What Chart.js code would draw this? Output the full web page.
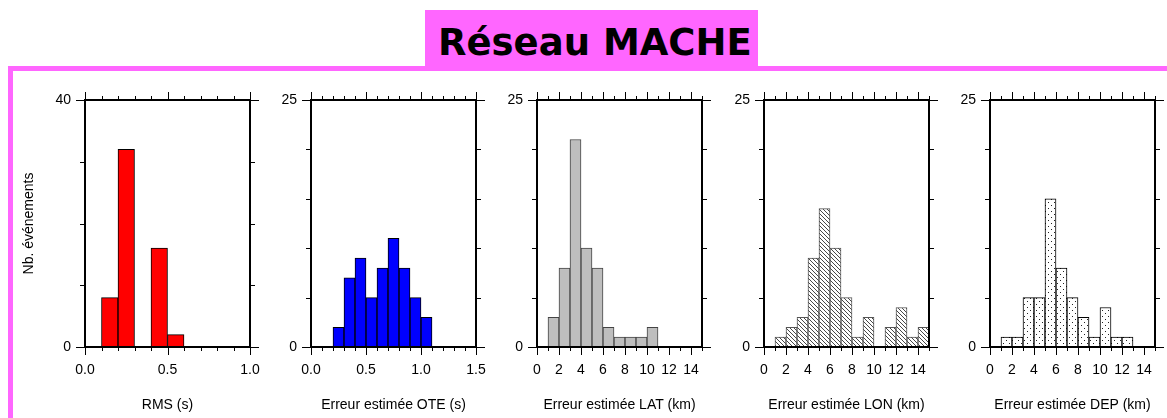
<!DOCTYPE html>
<html lang="fr">

<head>
    <meta charset="UTF-8">
    <title>Réseau MACHE</title>
    <script src="https://cdn.jsdelivr.net/npm/chart.js"></script>
    <style>
        body {
            margin: 0;
            width: 1167px;
            height: 418px;
            overflow: hidden;
            position: relative;
            background: #fff;
        }

        .bandeau {
            position: absolute;
            left: 8px;
            top: 66px;
            width: 1159px;
            height: 5px;
            background: #ff66ff;
        }

        .bord {
            position: absolute;
            left: 8px;
            top: 66px;
            width: 5px;
            height: 352px;
            background: #ff66ff;
        }

        .titre {
            position: absolute;
            left: 425px;
            top: 10px;
            width: 333px;
            height: 61px;
            background: #ff66ff;
        }

        .titre span {
            position: absolute;
            left: 13px;
            top: 11px;
            font: bold 37px "DejaVu Sans", sans-serif;
            color: #000;
            white-space: nowrap;
        }

        canvas {
            position: absolute;
            top: 90px;
        }
    </style>
</head>

<body>

    <div class="bandeau"></div>
    <div class="bord"></div>
    <div class="titre"><span>Réseau MACHE</span></div>

    <canvas id="histoRMS" style="left: 0px"></canvas>
    <canvas id="histoOTE" style="left: 251px"></canvas>
    <canvas id="histoLAT" style="left: 477px"></canvas>
    <canvas id="histoLON" style="left: 704px"></canvas>
    <canvas id="histoDEP" style="left: 930px"></canvas>

</body>

</html>

<script>

    // nombre d'événements par classe (la classe i va de i*pas à (i+1)*pas)
    const rmsComptes = [0, 8, 32, 0, 16, 2, 0, 0, 0, 0];
    const oteComptes = [0, 0, 2, 7, 9, 5, 8, 11, 8, 5, 3, 0, 0, 0, 0];
    const latComptes = [0, 3, 8, 21, 10, 8, 2, 1, 1, 1, 2, 0, 0, 0, 0];
    const lonComptes = [0, 1, 2, 3, 9, 14, 10, 5, 1, 3, 0, 2, 4, 1, 2];
    const depComptes = [0, 1, 1, 5, 5, 15, 8, 5, 3, 1, 4, 1, 1, 0, 0];

    const titresX = ["RMS (s)", "Erreur estimée OTE (s)", "Erreur estimée LAT (km)", "Erreur estimée LON (km)", "Erreur estimée DEP (km)"];
    const titreY = "Nb. événements";

    const police = "'Liberation Sans', Arial, sans-serif";

    // motifs de remplissage pour LON (hachures) et DEP (points)
    function motifHachures() {
        const c = document.createElement('canvas');
        c.width = 4; c.height = 4;
        const g = c.getContext('2d');
        g.fillStyle = '#fff';
        g.fillRect(0, 0, 4, 4);
        g.strokeStyle = '#333';
        g.lineWidth = 0.9;
        g.beginPath();
        g.moveTo(-1, -1); g.lineTo(5, 5);
        g.moveTo(-1, 3); g.lineTo(1, 5);
        g.moveTo(3, -1); g.lineTo(5, 1);
        g.stroke();
        return g.createPattern(c, 'repeat');
    }

    function motifPoints() {
        const c = document.createElement('canvas');
        c.width = 6; c.height = 6;
        const g = c.getContext('2d');
        g.fillStyle = '#fff';
        g.fillRect(0, 0, 6, 6);
        g.fillStyle = '#222';
        g.fillRect(1, 1, 1, 1);
        g.fillRect(4, 4, 1, 1);
        return g.createPattern(c, 'repeat');
    }

    // cadre noir + graduations vers l'extérieur sur les quatre côtés
    const cadre = {
        id: 'cadre',
        afterDatasetsDraw(chart, args, opts) {
            const ctx = chart.ctx;
            const a = chart.chartArea;
            const x = chart.scales.x;
            const y = chart.scales.y;
            ctx.save();
            ctx.strokeStyle = '#000';
            ctx.lineWidth = 1;
            ctx.beginPath();

            const nx = Math.round((x.max - x.min) / opts.xMineur);
            for (let i = 0; i <= nx; i++) {
                const v = x.min + i * opts.xMineur;
                const q = v / opts.xMajeur;
                const l = Math.abs(q - Math.round(q)) < 1e-6 ? 8 : 4;
                const px = Math.round(x.getPixelForValue(v)) + 0.5;
                ctx.moveTo(px, a.top); ctx.lineTo(px, a.top - l);
                ctx.moveTo(px, a.bottom); ctx.lineTo(px, a.bottom + l);
            }

            const ny = Math.round((y.max - y.min) / opts.yMineur);
            for (let i = 0; i <= ny; i++) {
                const v = y.min + i * opts.yMineur;
                const l = (i == 0 || i == ny) ? 9 : 5;
                const py = Math.round(y.getPixelForValue(v)) + 0.5;
                ctx.moveTo(a.left, py); ctx.lineTo(a.left - l, py);
                ctx.moveTo(a.right, py); ctx.lineTo(a.right + l, py);
            }
            ctx.stroke();

            ctx.lineWidth = 2;
            ctx.strokeRect(a.left, a.top, a.right - a.left, a.bottom - a.top);
            ctx.restore();
        }
    };

    function creerHisto(idCanvas, comptes, pas, xMax, xMajeur, yMax, yMineur, titre, fond, bord, gauche, decimales, avecTitreY) {
        const canvas = document.getElementById(idCanvas);
        canvas.width = gauche + 165 + 12;
        canvas.height = 328;

        let points = [];
        for (let i = 0; i < comptes.length; i++) {
            points.push({ x: (i + 0.5) * pas, y: comptes[i] });
        }

        const config = {
            type: 'bar',
            data: {
                datasets: [{
                    data: points,
                    backgroundColor: fond,
                    borderColor: bord,
                    borderWidth: 1,
                    barPercentage: 1,
                    categoryPercentage: 1
                }]
            },
            options: {
                responsive: false,
                animation: false,
                events: [],
                layout: { padding: { top: 10, right: 12, left: 0, bottom: 0 } },
                plugins: {
                    legend: { display: false },
                    tooltip: { enabled: false },
                    cadre: { xMineur: pas, xMajeur: xMajeur, yMineur: yMineur }
                },
                scales: {
                    x: {
                        type: 'linear',
                        offset: false,
                        min: 0,
                        max: xMax,
                        grid: { display: false, drawTicks: false },
                        border: { display: false },
                        ticks: {
                            stepSize: xMajeur,
                            includeBounds: false,
                            autoSkip: false,
                            maxRotation: 0,
                            padding: 15,
                            color: '#000',
                            font: { family: police, size: 14 },
                            callback: v => v.toFixed(decimales)
                        },
                        title: {
                            display: true,
                            text: titre,
                            color: '#000',
                            font: { family: police, size: 14 },
                            padding: { top: 0, bottom: 4 }
                        },
                        // largeur du cadre fixe : les étiquettes débordent dans la marge
                        afterFit: s => { s.height = 71; s.paddingLeft = 0; s.paddingRight = 0; }
                    },
                    y: {
                        min: 0,
                        max: yMax,
                        grid: { display: false, drawTicks: false },
                        border: { display: false },
                        ticks: {
                            stepSize: yMax,
                            padding: 14,
                            color: '#000',
                            font: { family: police, size: 14 }
                        },
                        title: {
                            display: avecTitreY,
                            text: titreY,
                            color: '#000',
                            font: { family: police, size: 14 },
                            padding: { top: 21, bottom: 0 }
                        },
                        afterFit: s => { s.width = gauche; s.paddingTop = 0; s.paddingBottom = 0; }
                    }
                }
            },
            plugins: [cadre]
        };

        return new Chart(canvas, config);
    }

    creerHisto('histoRMS', rmsComptes, 0.1, 1.0, 0.5, 40, 10, titresX[0], '#ff0000', '#000', 85, 1, true);
    creerHisto('histoOTE', oteComptes, 0.1, 1.5, 0.5, 25, 5, titresX[1], '#0000ff', '#000', 60, 1, false);
    creerHisto('histoLAT', latComptes, 1, 15, 2, 25, 5, titresX[2], '#bebebe', '#444', 60, 0, false);
    creerHisto('histoLON', lonComptes, 1, 15, 2, 25, 5, titresX[3], motifHachures(), '#555', 60, 0, false);
    creerHisto('histoDEP', depComptes, 1, 15, 2, 25, 5, titresX[4], motifPoints(), '#000', 60, 0, false);

</script>
